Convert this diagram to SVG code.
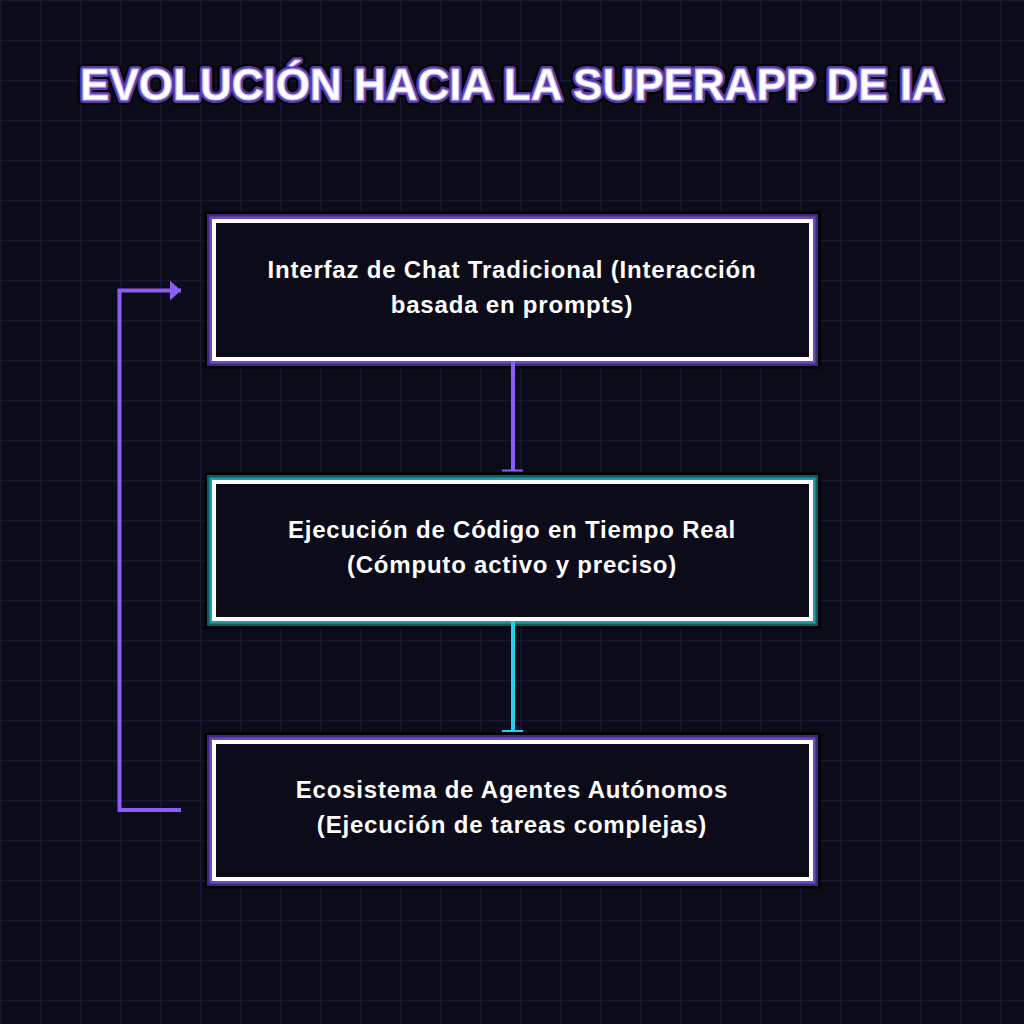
<svg xmlns="http://www.w3.org/2000/svg" width="1024" height="1024" viewBox="0 0 1024 1024">
  <defs>
    <pattern id="grid" width="40" height="40" patternUnits="userSpaceOnUse">
      <rect width="40" height="40" fill="#0b0b1a"/>
      <path d="M0 0.5H40M0.5 0V40" stroke="#181830" stroke-width="1.5" fill="none"/>
    </pattern>
    <marker id="arrow" viewBox="0 0 11 20" refX="11" refY="10" markerWidth="11" markerHeight="20" markerUnits="userSpaceOnUse" orient="auto">
      <path d="M0 0L11 10L0 20Z" fill="#8b5cf6"/>
    </marker>
    <style>
      .b0 { fill: none; stroke: #000000; stroke-width: 19; }
      .bp1 { fill: none; stroke: #3d2a7a; stroke-width: 14; }
      .bp2 { fill: none; stroke: #6b4bc4; stroke-width: 9; }
      .bt1 { fill: none; stroke: #0e5a63; stroke-width: 14; }
      .bt2 { fill: none; stroke: #1a9fae; stroke-width: 9; }
      .bw { fill: #0b0b1a; stroke: #ffffff; stroke-width: 4; }
      .lbl { font-family: "Liberation Sans", Arial, sans-serif; font-weight: bold; font-size: 24px; letter-spacing: 0.8px; fill: #ffffff; text-anchor: middle; }
      .title { font-family: "Liberation Sans", Arial, sans-serif; font-weight: bold; font-size: 44px; text-anchor: middle; }
      .cp { stroke: #8b5cf6; stroke-width: 4; fill: none; }
      .cc { stroke: #22d3ee; stroke-width: 4; fill: none; }
    </style>
  </defs>
  <rect width="1024" height="1024" fill="url(#grid)"/>

  <g id="title">
    <text class="title" x="512" y="100" fill="none" stroke="#000000" stroke-width="10" stroke-linejoin="round">EVOLUCIÓN HACIA LA SUPERAPP DE IA</text>
    <text class="title" x="512" y="100" fill="none" stroke="#5a3ea8" stroke-width="6" stroke-linejoin="round">EVOLUCIÓN HACIA LA SUPERAPP DE IA</text>
    <text class="title" x="512" y="100" fill="#ffffff" stroke="#c9b8ff" stroke-width="1" stroke-linejoin="round">EVOLUCIÓN HACIA LA SUPERAPP DE IA</text>
  </g>

  <g id="node1">
    <rect class="b0" x="214" y="221" width="597" height="138"/>
    <rect class="bp1" x="214" y="221" width="597" height="138"/>
    <rect class="bp2" x="214" y="221" width="597" height="138"/>
    <rect class="bw" x="214" y="221" width="597" height="138"/>
    <text class="lbl" x="512" y="278">Interfaz de Chat Tradicional (Interacción</text>
    <text class="lbl" x="512" y="313">basada en prompts)</text>
  </g>

  <g id="node2">
    <rect class="b0" x="214" y="482" width="597" height="137"/>
    <rect class="bt1" x="214" y="482" width="597" height="137"/>
    <rect class="bt2" x="214" y="482" width="597" height="137"/>
    <rect class="bw" x="214" y="482" width="597" height="137"/>
    <text class="lbl" x="512" y="538">Ejecución de Código en Tiempo Real</text>
    <text class="lbl" x="512" y="573">(Cómputo activo y preciso)</text>
  </g>

  <g id="node3">
    <rect class="b0" x="214" y="742" width="597" height="137"/>
    <rect class="bp1" x="214" y="742" width="597" height="137"/>
    <rect class="bp2" x="214" y="742" width="597" height="137"/>
    <rect class="bw" x="214" y="742" width="597" height="137"/>
    <text class="lbl" x="512" y="798">Ecosistema de Agentes Autónomos</text>
    <text class="lbl" x="512" y="833">(Ejecución de tareas complejas)</text>
  </g>

  <g id="connectors">
    <line class="cp" x1="513" y1="361" x2="513" y2="470"/>
    <line x1="502" y1="470.5" x2="523" y2="470.5" stroke="#8b5cf6" stroke-width="2"/>
    <line class="cc" x1="513" y1="621" x2="513" y2="731"/>
    <line x1="502" y1="731" x2="523" y2="731" stroke="#22d3ee" stroke-width="2"/>
    <path class="cp" d="M181 810H119.5V290.5H181" marker-end="url(#arrow)"/>
  </g>
</svg>
